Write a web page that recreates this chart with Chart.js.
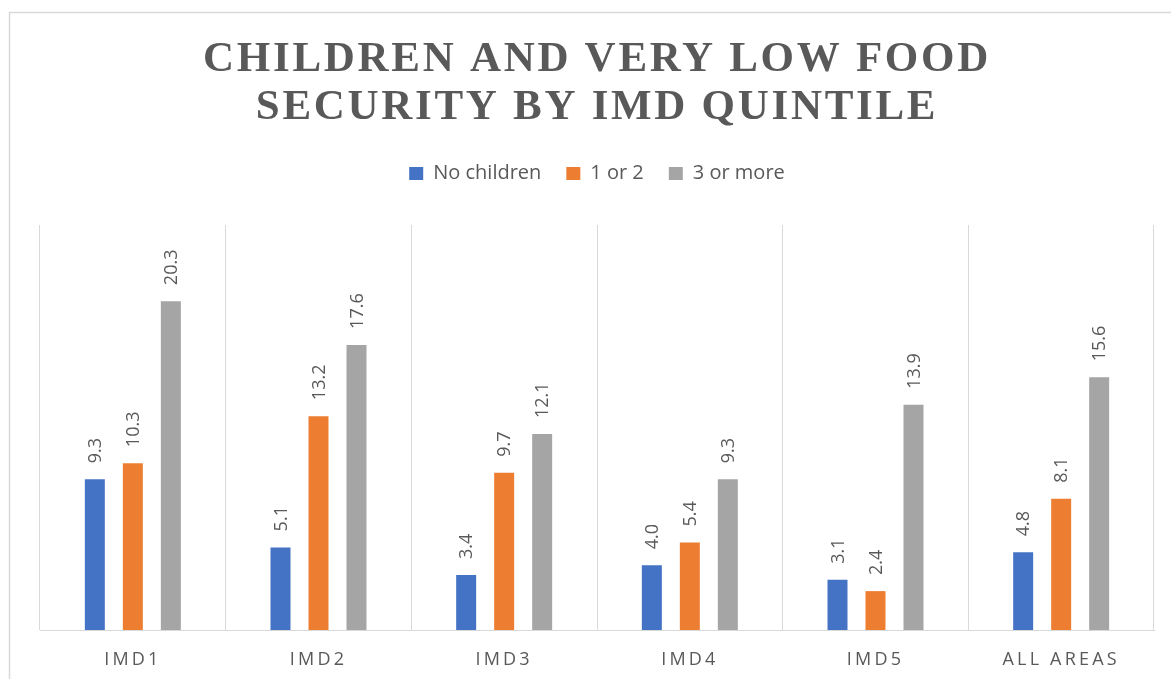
<!DOCTYPE html>
<html>
<head>
<meta charset="utf-8">
<title>Children and very low food security by IMD quintile</title>
<script src="https://cdn.jsdelivr.net/npm/chart.js@4.4.1/dist/chart.umd.min.js"></script>
<style>
  html, body { margin: 0; padding: 0; background: #ffffff; }
  canvas { display: block; }
</style>
</head>
<body>
<canvas id="chart" width="1171" height="679"></canvas>
<script>
// ---- data ----
const categories = ['IMD1', 'IMD2', 'IMD3', 'IMD4', 'IMD5', 'ALL AREAS'];
const seriesNames = ['No children', '1 or 2', '3 or more'];
const noChildren = [9.3, 5.1, 3.4, 4.0, 3.1, 4.8];
const oneOrTwo = [10.3, 13.2, 9.7, 5.4, 2.4, 8.1];
const threeOrMore = [20.3, 17.6, 12.1, 9.3, 13.9, 15.6];
const titleLines = ['CHILDREN AND VERY LOW FOOD', 'SECURITY BY IMD QUINTILE'];
const valueMax = 25;

// ---- styling ----
const seriesColors = ['#4472C4', '#ED7D31', '#A5A5A5'];
const textGray = '#595959';
const lineGray = '#d9d9d9';
const sansFamily = '"Open Sans", "Noto Sans", sans-serif';
const serifFamily = '"Liberation Serif", "Times New Roman", serif';

// Wrap a draw method so its text is rendered with extra letter spacing.
function withLetterSpacing(obj, method, spacing) {
  if (!obj || obj['__spaced_' + method]) return;
  const original = obj[method];
  obj[method] = function (...args) {
    const ctx = this.ctx;
    ctx.save();
    ctx.letterSpacing = spacing + 'px';
    const r = original.apply(this, args);
    ctx.restore();
    return r;
  };
  obj['__spaced_' + method] = true;
}

const spacedText = {
  id: 'spacedText',
  afterInit(chart) {
    withLetterSpacing(chart.titleBlock, 'draw', 2.7);
  },
  afterUpdate(chart) {
    withLetterSpacing(chart.scales.x, 'drawLabels', 3.2);
  }
};

// White background and the light outer frame of the chart object.
const chartFrame = {
  id: 'chartFrame',
  beforeDraw(chart) {
    const ctx = chart.ctx;
    ctx.save();
    ctx.fillStyle = '#ffffff';
    ctx.fillRect(0, 0, chart.width, chart.height);
    ctx.strokeStyle = lineGray;
    ctx.lineWidth = 1.5;
    ctx.strokeRect(9.5, 12.5, chart.width + 40, chart.height + 40);
    ctx.restore();
  }
};

// Rotated value labels above each bar.
const barValues = {
  id: 'barValues',
  afterDatasetsDraw(chart) {
    const ctx = chart.ctx;
    ctx.save();
    ctx.font = '18px ' + sansFamily;
    ctx.fillStyle = textGray;
    ctx.textAlign = 'left';
    ctx.textBaseline = 'middle';
    chart.data.datasets.forEach((ds, di) => {
      const meta = chart.getDatasetMeta(di);
      meta.data.forEach((bar, i) => {
        const v = ds.data[i];
        ctx.save();
        ctx.translate(bar.x + 1, bar.y - 16);
        ctx.rotate(-Math.PI / 2);
        ctx.fillText(v.toFixed(1), 0, 0);
        ctx.restore();
      });
    });
    ctx.restore();
  }
};

const seriesValues = [noChildren, oneOrTwo, threeOrMore];

new Chart(document.getElementById('chart'), {
  type: 'bar',
  data: {
    labels: categories,
    datasets: seriesNames.map((name, i) => ({
      label: name,
      data: seriesValues[i],
      backgroundColor: seriesColors[i],
      borderWidth: 0,
      categoryPercentage: 0.614,
      barPercentage: 0.526
    }))
  },
  options: {
    responsive: false,
    animation: false,
    devicePixelRatio: 1,
    layout: { padding: { top: 12, left: 40, right: 17, bottom: 0 } },
    plugins: {
      title: {
        display: true,
        text: titleLines,
        color: textGray,
        font: { family: serifFamily, size: 43, weight: 'bold', lineHeight: 48 / 43 },
        padding: { top: 24, bottom: 6.5 }
      },
      legend: {
        display: true,
        position: 'top',
        labels: {
          color: textGray,
          font: { family: sansFamily, size: 20 },
          boxWidth: 14,
          boxHeight: 13,
          padding: 25
        }
      },
      tooltip: { enabled: false }
    },
    scales: {
      x: {
        grid: { offset: true, color: lineGray, lineWidth: 1, drawTicks: false },
        border: { display: true, color: lineGray, width: 1 },
        ticks: {
          color: textGray,
          font: { family: sansFamily, size: 18 },
          padding: 19,
          maxRotation: 0,
          autoSkip: false
        },
        afterFit(scale) { scale.height = 49; }
      },
      // empty band that keeps the plot clear of the legend
      legendGap: {
        type: 'category',
        position: 'top',
        display: true,
        grid: { display: false },
        border: { display: false },
        ticks: { display: false },
        afterFit(scale) { scale.height = 31.5; }
      },
      y: {
        display: false,
        min: 0,
        max: valueMax
      }
    }
  },
  plugins: [chartFrame, spacedText, barValues]
});
</script>
</body>
</html>
